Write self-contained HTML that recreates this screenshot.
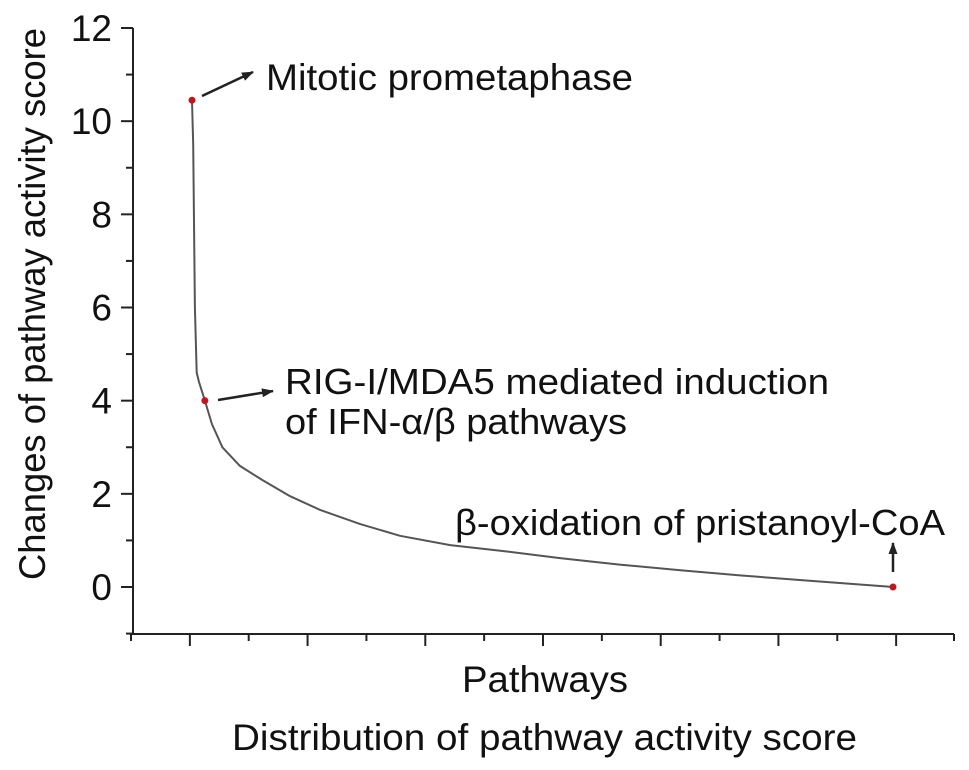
<!DOCTYPE html>
<html><head><meta charset="utf-8"><style>
html,body{margin:0;padding:0;background:#fff;}
svg{display:block;font-family:"Liberation Sans",Arial,sans-serif;}
</style></head><body>
<svg id="chart" width="969" height="770" viewBox="0 0 969 770" xmlns="http://www.w3.org/2000/svg">
<defs><marker id="ah" markerWidth="12" markerHeight="9" refX="11" refY="4.5" orient="auto" markerUnits="userSpaceOnUse"><path d="M0,0 L12,4.5 L0,9 z" fill="#222"/></marker></defs>
<g id="axes"></g>
<path id="curve" fill="none" stroke="#555" stroke-width="2" stroke-linejoin="round"/>
<g id="marks"></g>
<text x="266" y="90" font-size="37" textLength="367" lengthAdjust="spacingAndGlyphs" fill="#111">Mitotic prometaphase</text>
<line x1="202" y1="96" x2="253" y2="72" stroke="#222" stroke-width="2.5" marker-end="url(#ah)"/>
<text x="285" y="394" font-size="36" textLength="544" lengthAdjust="spacingAndGlyphs" fill="#111">RIG-I/MDA5 mediated induction</text>
<text x="285" y="434" font-size="36" textLength="342" lengthAdjust="spacingAndGlyphs" fill="#111">of IFN-α/β pathways</text>
<line x1="218" y1="400" x2="273" y2="391" stroke="#222" stroke-width="2.5" marker-end="url(#ah)"/>
<text x="455" y="535" font-size="36" textLength="490" lengthAdjust="spacingAndGlyphs" fill="#111">β-oxidation of pristanoyl-CoA</text>
<line x1="893" y1="572" x2="893" y2="543" stroke="#222" stroke-width="2.5" marker-end="url(#ah)"/>
<text x="462" y="692" font-size="37" textLength="166" lengthAdjust="spacingAndGlyphs" fill="#111">Pathways</text>
<text x="232" y="750" font-size="37" textLength="625" lengthAdjust="spacingAndGlyphs" fill="#111">Distribution of pathway activity score</text>
<text transform="translate(45,580) rotate(-90)" font-size="37" textLength="552" lengthAdjust="spacingAndGlyphs" fill="#111">Changes of pathway activity score</text>
</svg>
<script>
const ranks = [0,1,2.5,4,6,11,17,26,41,60,84,110,144,178,221,264,315,366,418,469,520,563,600];
const scores = [10.45,9.5,6,4.6,4.4,4.0,3.5,3.0,2.6,2.3,1.95,1.65,1.35,1.1,0.9,0.78,0.62,0.48,0.36,0.25,0.15,0.07,0];
const highlightRanks = [0,11,600];
const highlightScores = [10.45,4.0,0];
const yTicks = [0,2,4,6,8,10,12];
const ns="http://www.w3.org/2000/svg";
function X(r){return 192+r*(893-192)/600;}
function Y(v){return 587-v*(587-28)/12;}
function mk(t,a,p){const e=document.createElementNS(ns,t);for(const k in a)e.setAttribute(k,a[k]);p.appendChild(e);return e;}
const axes=document.getElementById('axes');
let yl=mk('line',{x1:133,y1:Y(12),x2:133,y2:Y(-1),stroke:'#222','stroke-width':2},axes);


let xl=mk('line',{x1:131,y1:634,x2:954,y2:634,stroke:'#222','stroke-width':2},axes);


for(let v=-1;v<=12;v++){const maj=yTicks.includes(v);mk('line',{x1:maj?121:126,y1:Y(v),x2:133,y2:Y(v),stroke:'#222','stroke-width':2},axes);}
yTicks.forEach(v=>{const t=mk('text',{x:112,y:Y(v)+13,'text-anchor':'end','font-size':37,fill:'#111'},axes);t.textContent=v;

});
for(let i=0;i<14;i++){const px=131+i*(955-131)/14;mk('line',{x1:px,y1:634,x2:px,y2:i%2?646:641,stroke:'#222','stroke-width':2},axes);}
mk('line',{x1:954,y1:634,x2:954,y2:641,stroke:'#222','stroke-width':2},axes);
document.getElementById('curve').setAttribute('d',ranks.map((r,i)=>(i?'L':'M')+X(r).toFixed(1)+','+Y(scores[i]).toFixed(1)).join(' '));
const marks=document.getElementById('marks');
highlightRanks.forEach((r,i)=>{const c=mk('circle',{cx:X(r),cy:Y(highlightScores[i]),r:3.5,fill:'#c0161b'},marks);

});
</script>
</body></html>
